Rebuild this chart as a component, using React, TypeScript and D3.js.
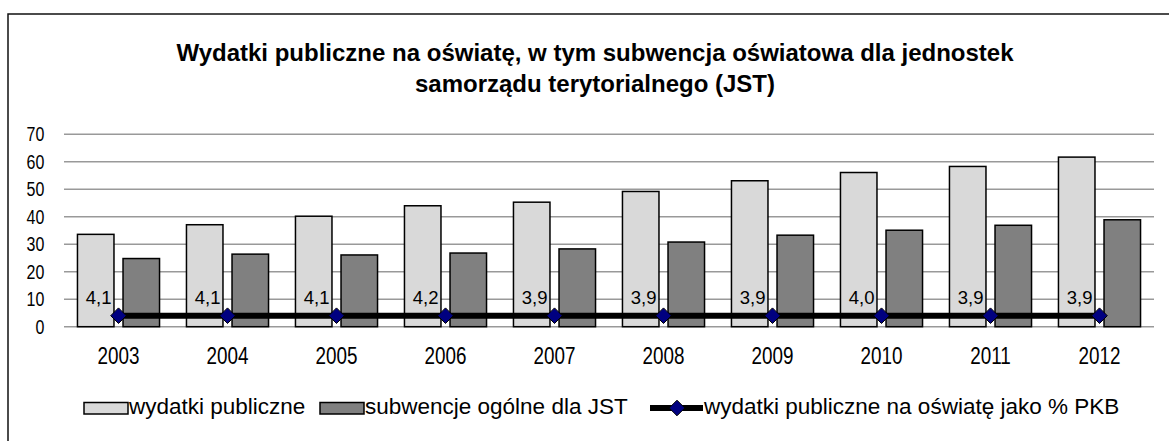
import React from "react";
import * as d3 from "d3";

const years = ["2003", "2004", "2005", "2006", "2007", "2008", "2009", "2010", "2011", "2012"];
const wydatki = [33.6, 37.1, 40.2, 44.0, 45.3, 49.2, 53.1, 56.1, 58.3, 61.7];
const subwencje = [24.8, 26.4, 26.1, 26.8, 28.3, 30.8, 33.3, 35.1, 36.9, 38.9];
const pkb = [4.1, 4.1, 4.1, 4.2, 3.9, 3.9, 3.9, 4.0, 3.9, 3.9];
const yTicks = [0, 10, 20, 30, 40, 50, 60, 70];

const titleLines = [
  "Wydatki publiczne na oświatę, w tym subwencja oświatowa dla jednostek",
  "samorządu terytorialnego (JST)",
];
const legendLabels = [
  "wydatki publiczne",
  "subwencje ogólne dla JST",
  "wydatki publiczne na oświatę jako % PKB",
];

const W = 1169;
const H = 441;
const LIGHT = "#d9d9d9";
const DARK = "#808080";
const NAVY = "#000080";
const SANS = "'Liberation Sans', Arial, sans-serif";
const NARROW_SCALE = 0.82;

export default function App() {
  const x = d3.scaleBand<string>().domain(years).range([64, 1154]).padding(0);
  const y = d3.scaleLinear().domain([0, 70]).range([326.7, 134.3]);
  const bw = x.bandwidth();
  const barW = bw * 0.335;
  const gap = bw * 0.083;
  const off = (bw - 2 * barW - gap) / 2;
  const cx = (i: number) => (x(years[i]) as number) + bw / 2;

  const line = d3
    .line<number>()
    .x((_, i) => cx(i))
    .y(() => y(4.0));

  const diamond = (px: number, py: number, r: number) =>
    `M${px},${py - r}L${px + r},${py}L${px},${py + r}L${px - r},${py}Z`;

  const fmt = (v: number) => v.toFixed(1).replace(".", ",");

  return (
    <svg
      width={W}
      height={H}
      style={{ position: "absolute", left: 0, top: 0, background: "#fff" }}
    >
      <rect x={8} y={14} width={1180} height={440} fill="#fff" stroke="#111" strokeWidth={1.5} />
      {titleLines.map((t, i) => (
        <text
          key={i}
          x={595}
          y={60.7 + i * 31}
          textAnchor="middle"
          fontFamily={SANS}
          fontWeight="bold"
          fontSize={24}
          fill="#000"
        >
          {t}
        </text>
      ))}
      {yTicks.map((t) => (
        <g key={t}>
          <line x1={64} x2={1154} y1={y(t)} y2={y(t)} stroke="#999" strokeWidth={1.5} />
          <text
            transform={`translate(44.3,${y(t) + 7}) scale(${NARROW_SCALE},1)`}
            textAnchor="end"
            fontFamily={SANS}
            fontSize={19.5}
            fill="#000"
          >
            {t}
          </text>
        </g>
      ))}
      {years.map((yr, i) => {
        const x0 = x(yr) as number;
        return (
          <g key={yr}>
            <rect
              x={x0 + off}
              y={y(wydatki[i])}
              width={barW}
              height={y(0) - y(wydatki[i])}
              fill={LIGHT}
              stroke="#000"
              strokeWidth={1.5}
            />
            <rect
              x={x0 + off + barW + gap}
              y={y(subwencje[i])}
              width={barW}
              height={y(0) - y(subwencje[i])}
              fill={DARK}
              stroke="#000"
              strokeWidth={1.5}
            />
            <text
              transform={`translate(${cx(i)},364) scale(${NARROW_SCALE},1)`}
              textAnchor="middle"
              fontFamily={SANS}
              fontSize={23}
              fill="#000"
            >
              {yr}
            </text>
          </g>
        );
      })}
      <path d={line(pkb) || ""} fill="none" stroke="#000" strokeWidth={6} />
      {pkb.map((v, i) => (
        <g key={i}>
          <path d={diamond(cx(i), y(4.0), 7.8)} fill={NAVY} stroke="#000" strokeWidth={1} />
          <text
            x={cx(i) - 7}
            y={304.3}
            textAnchor="end"
            fontFamily={SANS}
            fontSize={18.5}
            fill="#000"
          >
            {fmt(v)}
          </text>
        </g>
      ))}
      {/* legend */}
      <rect x={84} y={402.5} width={44} height={11.5} fill={LIGHT} stroke="#000" strokeWidth={1.5} />
      <text x={129} y={414} fontFamily={SANS} fontSize={22.5} fill="#000">
        {legendLabels[0]}
      </text>
      <rect x={320} y={402.5} width={44} height={11.5} fill={DARK} stroke="#000" strokeWidth={1.5} />
      <text x={365} y={414} fontFamily={SANS} fontSize={22.5} fill="#000">
        {legendLabels[1]}
      </text>
      <line x1={650} x2={703} y1={408} y2={408} stroke="#000" strokeWidth={6} />
      <path d={diamond(677, 408, 7.8)} fill={NAVY} stroke="#000" strokeWidth={1} />
      <text x={704} y={414} fontFamily={SANS} fontSize={22.5} fill="#000">
        {legendLabels[2]}
      </text>
    </svg>
  );
}
